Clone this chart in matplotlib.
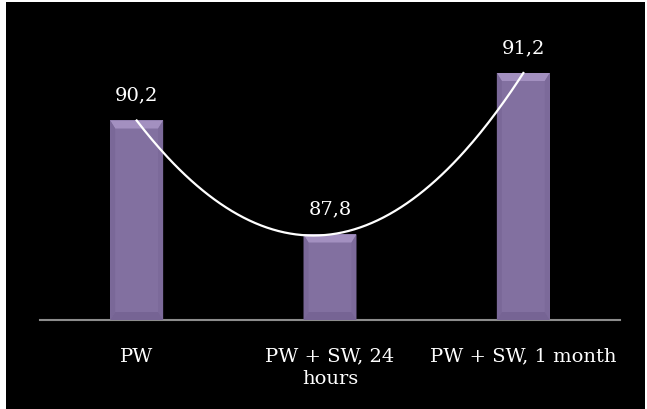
import matplotlib
matplotlib.use("Agg")
import matplotlib.pyplot as plt
from matplotlib.patches import Rectangle, Polygon
import numpy as np

categories = ["PW", "PW + SW, 24\nhours", "PW + SW, 1 month"]
values = [90.2, 87.8, 91.2]

plt.rcParams['font.family'] = ['DejaVu Serif']

fig = plt.figure(figsize=(6.47, 4.09), dpi=100, facecolor="white")
# black slide background (thin white strip left/top/right like the source)
bg = Rectangle((6 / 647, 0), 639 / 647, 1 - 2 / 409, transform=fig.transFigure,
               facecolor="black", edgecolor="none", zorder=-10)
fig.add_artist(bg)

ax = fig.add_axes([40 / 647, 1 - 320 / 409, 580 / 647, 285 / 409])
ax.set_zorder(1)
ax.set_facecolor("black")
x = np.arange(len(categories))
ymin, ymax = 86, 92
ax.set_xlim(-0.5, 2.5)
ax.set_ylim(ymin, ymax)

bars = ax.bar(x, [v - ymin for v in values], bottom=ymin, width=0.274,
              color="#8270a0", edgecolor="none", zorder=2)

# bevel effect, sized in pixels converted to data units
dx = 3.0 / 580 * 5
dy = 6.0 / 285 * 8
for b in bars:
    x0, y0 = b.get_x(), b.get_y()
    w, h = b.get_width(), b.get_height()
    x1, y1 = x0 + w, y0 + h
    ax.add_patch(Polygon([(x0, y1), (x1, y1), (x1 - dx, y1 - dy), (x0 + dx, y1 - dy)],
                         facecolor="#a390c0", edgecolor="none", zorder=3))
    ax.add_patch(Polygon([(x0, y0), (x0 + dx, y0 + dy), (x0 + dx, y1 - dy), (x0, y1)],
                         facecolor="#7a6898", edgecolor="none", zorder=3))
    ax.add_patch(Polygon([(x1, y0), (x1 - dx, y0 + dy), (x1 - dx, y1 - dy), (x1, y1)],
                         facecolor="#7c6a9a", edgecolor="none", zorder=3))
    ax.add_patch(Polygon([(x0, y0), (x1, y0), (x1 - dx, y0 + dy), (x0 + dx, y0 + dy)],
                         facecolor="#766494", edgecolor="none", zorder=3))

# polynomial trendline
coef = np.polyfit(x, values, 2)
xs = np.linspace(0, 2, 200)
ax.plot(xs, np.polyval(coef, xs), color="white", linewidth=1.6, zorder=4)

for xi, v in zip(x, values):
    ax.annotate(f"{v:.1f}".replace(".", ","), (xi, v), xytext=(0, 18),
                textcoords="offset points", ha="center", va="center",
                color="white", fontsize=14)

for s in ["top", "left", "right"]:
    ax.spines[s].set_visible(False)
ax.spines["bottom"].set_color("#8c8c8c")
ax.spines["bottom"].set_linewidth(1.5)
ax.set_yticks([])
ax.set_xticks(x)
ax.set_xticklabels(categories, color="white", fontsize=14, linespacing=1.3)
ax.tick_params(axis="x", length=0, pad=20)

fig.savefig("out.png", dpi=100, facecolor=fig.get_facecolor())
